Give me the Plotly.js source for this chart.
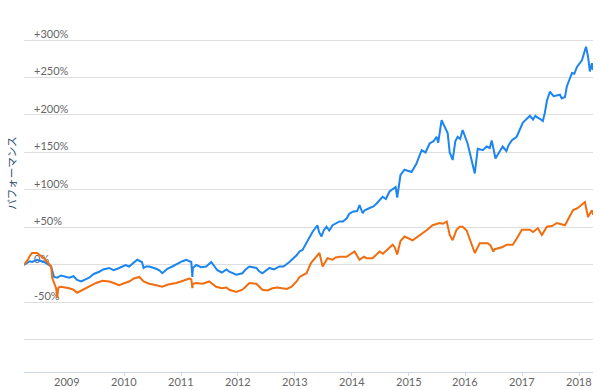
<!DOCTYPE html>
<html>
<head>
<meta charset="utf-8">
<script src="https://cdn.plot.ly/plotly-3.0.1.min.js"></script>
<style>html,body{margin:0;padding:0;background:#fff}#chart{width:600px;height:390px}</style>
</head>
<body>
<div id="chart"></div>
<script>
const blueDates = ["2008-03-29","2008-04-20","2008-05-05","2008-05-20","2008-06-21","2008-07-04","2008-08-05","2008-09-19","2008-10-08","2008-10-28","2008-11-22","2009-01-13","2009-02-10","2009-03-05","2009-03-31","2009-05-21","2009-06-20","2009-07-25","2009-08-20","2009-09-27","2009-10-25","2009-11-30","2010-01-10","2010-02-02","2010-03-26","2010-04-25","2010-05-06","2010-05-23","2010-06-11","2010-07-26","2010-08-15","2010-09-03","2010-10-05","2010-11-06","2010-12-10","2011-01-10","2011-02-04","2011-03-08","2011-03-15","2011-03-18","2011-04-09","2011-05-10","2011-06-12","2011-07-14","2011-08-22","2011-09-20","2011-10-20","2011-11-07","2011-12-22","2012-01-30","2012-02-20","2012-03-15","2012-04-29","2012-05-15","2012-06-06","2012-07-22","2012-08-20","2012-09-24","2012-10-20","2012-11-10","2012-11-27","2013-01-12","2013-01-31","2013-02-19","2013-03-17","2013-04-05","2013-04-24","2013-05-26","2013-06-05","2013-06-21","2013-07-05","2013-07-23","2013-08-10","2013-08-31","2013-09-20","2013-10-15","2013-11-05","2013-11-29","2013-12-15","2014-01-07","2014-02-05","2014-02-20","2014-03-12","2014-03-25","2014-04-26","2014-05-20","2014-06-10","2014-07-18","2014-08-08","2014-09-01","2014-10-10","2014-10-20","2014-11-10","2014-12-06","2015-01-20","2015-02-20","2015-03-26","2015-04-20","2015-05-16","2015-06-10","2015-06-30","2015-07-10","2015-08-01","2015-08-21","2015-09-09","2015-09-22","2015-10-11","2015-10-28","2015-11-12","2015-11-28","2015-12-14","2016-01-15","2016-02-10","2016-03-01","2016-03-20","2016-04-21","2016-05-17","2016-06-05","2016-06-18","2016-07-12","2016-08-27","2016-09-20","2016-10-05","2016-10-24","2016-11-25","2016-12-15","2017-01-04","2017-02-18","2017-03-10","2017-03-25","2017-04-04","2017-04-23","2017-05-12","2017-05-25","2017-06-07","2017-06-26","2017-07-20","2017-08-30","2017-09-10","2017-10-01","2017-10-13","2017-11-15","2017-11-30","2017-12-17","2018-01-02","2018-01-18","2018-02-13","2018-02-26","2018-03-10","2018-03-23","2018-03-30"];
const blueValues = [0,3,5,4,7,6,4,-2,-16,-17,-14,-17,-15,-20,-22,-17,-12,-9,-6,-4,-7,-4,0,-2,7,4,-4,-2,-2,-5,-7,-11,-5,-2,2,5,7,4,-16,-4,0,-3,-2,4,-7,-10,-6,-9,-13,-11,-6,-2,-4,-8,-11,-4,-6,-2,-2,1,4,13,18,20,30,36,44,53,44,38,46,51,46,53,55,58,58,62,68,71,72,80,69,73,76,78,82,91,88,98,104,90,120,127,124,135,153,150,162,165,171,163,193,184,176,150,140,165,171,168,180,162,140,122,155,153,158,156,166,142,158,152,160,166,171,180,190,199,194,199,197,195,192,203,219,231,225,227,222,224,238,256,255,264,268,273,291,278,258,269,260];

const orangeDates = ["2008-03-29","2008-04-20","2008-05-05","2008-05-20","2008-06-21","2008-08-05","2008-09-19","2008-09-26","2008-10-21","2008-10-28","2008-11-05","2008-11-22","2009-01-13","2009-02-10","2009-03-05","2009-05-02","2009-06-01","2009-07-05","2009-08-15","2009-09-27","2009-10-25","2009-11-30","2010-01-05","2010-02-02","2010-03-05","2010-04-08","2010-05-06","2010-06-11","2010-07-26","2010-09-03","2010-10-10","2010-12-01","2011-01-15","2011-02-23","2011-03-08","2011-03-15","2011-03-18","2011-04-09","2011-05-20","2011-07-01","2011-08-15","2011-09-20","2011-10-20","2011-11-07","2011-12-22","2012-01-30","2012-02-20","2012-03-15","2012-04-29","2012-05-15","2012-06-06","2012-07-10","2012-08-10","2012-09-10","2012-10-14","2012-11-10","2012-12-11","2013-01-12","2013-01-31","2013-03-17","2013-04-15","2013-05-20","2013-06-08","2013-06-28","2013-07-30","2013-08-31","2013-09-20","2013-10-15","2013-11-29","2014-01-19","2014-02-20","2014-03-20","2014-04-06","2014-05-15","2014-06-29","2014-07-20","2014-08-13","2014-09-21","2014-10-03","2014-10-20","2014-11-10","2014-12-06","2015-01-27","2015-03-01","2015-04-01","2015-05-01","2015-06-04","2015-07-19","2015-08-10","2015-09-03","2015-09-22","2015-10-11","2015-11-05","2015-11-25","2015-12-14","2016-01-09","2016-02-16","2016-03-01","2016-04-02","2016-05-23","2016-06-10","2016-06-28","2016-07-07","2016-08-27","2016-09-22","2016-10-31","2016-11-25","2016-12-28","2017-02-18","2017-03-10","2017-04-10","2017-05-06","2017-06-07","2017-07-10","2017-08-10","2017-09-10","2017-10-01","2017-11-21","2017-12-23","2018-02-06","2018-02-26","2018-03-23","2018-03-30"];
const orangeValues = [0,6,12,16,16,9,-2,-17,-31,-44,-30,-29,-31,-33,-37,-31,-27,-24,-21,-22,-24,-27,-24,-22,-18,-16,-22,-25,-27,-29,-26,-24,-21,-18,-19,-31,-25,-24,-25,-22,-29,-31,-30,-33,-36,-33,-29,-24,-25,-28,-33,-34,-31,-30,-31,-32,-29,-22,-16,-11,3,11,16,-2,9,7,10,11,11,18,7,11,9,9,18,15,20,27,24,14,32,38,33,38,42,47,53,56,55,58,40,33,47,51,51,46,24,16,29,29,26,18,21,24,27,27,35,47,47,44,49,40,51,52,56,54,53,73,76,84,64,73,67];

const xTickVals = ["2009-01-01","2010-01-01","2011-01-01","2012-01-01","2013-01-01","2014-01-01","2015-01-01","2016-01-01","2017-01-01","2018-01-01"];
const xTickText = ["2009","2010","2011","2012","2013","2014","2015","2016","2017","2018"];
const yTickVals = [-100,-50,0,50,100,150,200,250,300];
const yTickText = ["","-50%","0%","+50%","+100%","+150%","+200%","+250%","+300%"];
const yTitle = "パフォーマンス";

const traces = [
  {x: blueDates, y: blueValues, type: "scatter", mode: "lines", line: {color: "#1c85ef", width: 2}, hoverinfo: "skip"},
  {x: orangeDates, y: orangeValues, type: "scatter", mode: "lines", line: {color: "#f06d10", width: 2}, hoverinfo: "skip"}
];

const labelFont = {family: "Lato, sans-serif", size: 11, color: "#666"};
const xLabelAnnotations = xTickVals.map((v, i) => ({
  text: xTickText[i], xref: "x", yref: "paper", x: v, y: 0,
  xanchor: "center", yanchor: "middle", yshift: -9,
  showarrow: false, font: labelFont
}));

const layout = {
  width: 600, height: 390,
  margin: {l: 24, r: 7, t: 10, b: 18},
  paper_bgcolor: "#fff", plot_bgcolor: "#fff",
  showlegend: false,
  font: labelFont,
  xaxis: {
    type: "date",
    range: ["2008-03-29", "2018-03-30"],
    tickmode: "array", tickvals: xTickVals, ticktext: xTickText,
    showticklabels: false,
    showgrid: false, zeroline: false,
    showline: true, linecolor: "#ccd6eb", linewidth: 1,
    ticks: "outside", ticklen: 3, tickcolor: "#ccd6eb"
  },
  yaxis: {
    range: [-142.7, 340],
    tickmode: "array", tickvals: yTickVals, ticktext: yTickText,
    ticklabelposition: "inside", ticklabelstandoff: 7, ticklabelshift: -6,
    layer: "below traces",
    showgrid: true, gridcolor: "#dedede", gridwidth: 1,
    zeroline: false, showline: false, ticks: "",
    tickfont: labelFont
  },
  annotations: xLabelAnnotations.concat([{
    text: yTitle, xref: "paper", yref: "paper",
    x: -0.021, y: 0.548, xanchor: "center", yanchor: "middle",
    textangle: -90, showarrow: false,
    font: {family: "Noto Sans CJK JP, sans-serif", size: 10.5, color: "#2c4a70"}
  }])
};

Plotly.newPlot("chart", traces, layout, {displayModeBar: false, staticPlot: true});
</script>
</body>
</html>
